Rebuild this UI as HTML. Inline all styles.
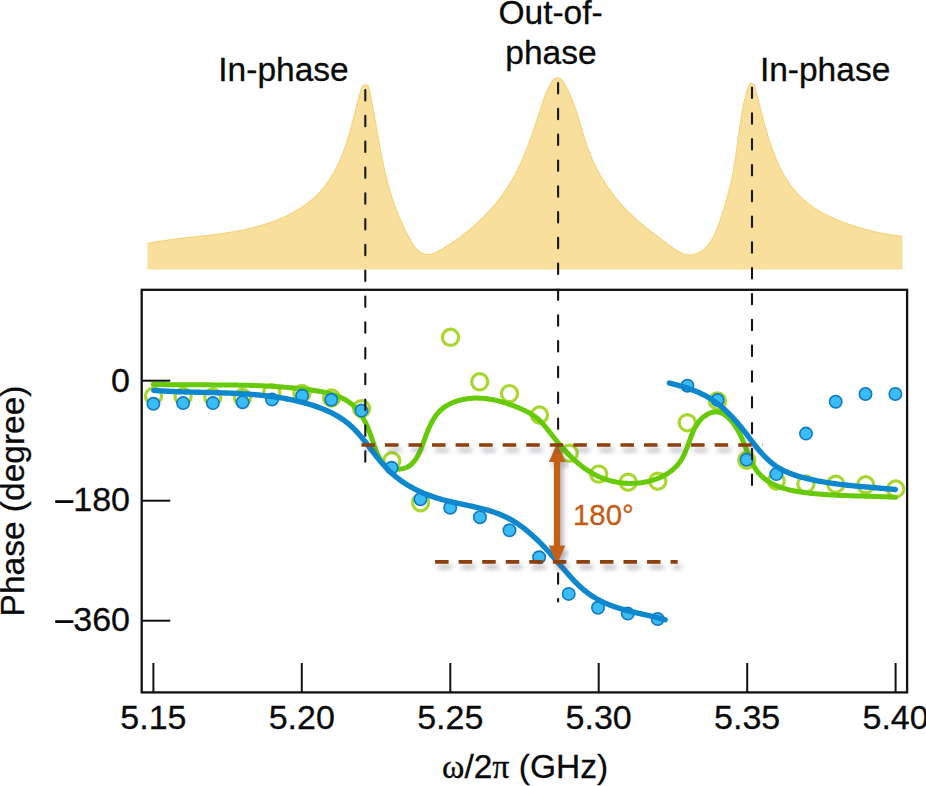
<!DOCTYPE html><html><head><meta charset="utf-8"><style>html,body{margin:0;padding:0;background:#fff;}svg{display:block;}</style></head><body><svg width="926" height="786" viewBox="0 0 926 786"><defs><filter id="sh" x="-20%" y="-50%" width="140%" height="300%"><feDropShadow dx="3" dy="5" stdDeviation="2.4" flood-color="#556" flood-opacity="0.45"/></filter></defs><rect width="926" height="786" fill="#fff"/><path d="M147.41,243.54 L148.89,243.25 L150.37,242.96 L151.85,242.68 L153.33,242.41 L154.82,242.15 L156.31,241.89 L157.79,241.64 L159.28,241.40 L160.77,241.16 L162.26,240.93 L163.76,240.70 L165.25,240.48 L166.74,240.27 L168.24,240.06 L169.73,239.85 L171.23,239.65 L172.73,239.46 L174.22,239.27 L175.72,239.08 L177.22,238.89 L178.72,238.71 L180.22,238.53 L181.73,238.35 L183.23,238.18 L184.73,238.01 L186.23,237.84 L187.74,237.67 L189.24,237.50 L190.74,237.33 L192.25,237.16 L193.75,237.00 L195.26,236.83 L196.76,236.66 L198.27,236.50 L199.77,236.33 L201.28,236.16 L202.78,235.99 L204.29,235.82 L205.80,235.64 L207.30,235.47 L208.81,235.29 L210.31,235.11 L211.82,234.93 L213.32,234.74 L214.83,234.55 L216.33,234.36 L217.84,234.16 L219.34,233.96 L220.84,233.75 L222.35,233.54 L223.85,233.32 L225.35,233.10 L226.85,232.87 L228.35,232.64 L229.85,232.40 L231.35,232.15 L232.85,231.90 L234.35,231.64 L235.85,231.38 L237.34,231.10 L238.84,230.82 L240.33,230.53 L241.83,230.23 L243.32,229.92 L244.81,229.61 L246.30,229.28 L247.79,228.95 L249.28,228.60 L250.77,228.25 L252.25,227.88 L253.74,227.51 L255.22,227.12 L256.71,226.73 L258.18,226.32 L259.66,225.90 L261.14,225.47 L262.61,225.03 L264.07,224.58 L265.54,224.12 L267.00,223.64 L268.45,223.16 L269.90,222.66 L271.35,222.15 L272.79,221.62 L274.22,221.09 L275.65,220.54 L277.07,219.98 L278.49,219.41 L279.90,218.82 L281.30,218.22 L282.69,217.61 L284.08,216.98 L285.46,216.35 L286.82,215.69 L288.18,215.03 L289.54,214.35 L290.88,213.66 L292.21,212.95 L293.53,212.23 L294.84,211.49 L296.15,210.74 L297.44,209.98 L298.71,209.20 L299.98,208.40 L301.24,207.60 L302.48,206.77 L303.71,205.93 L304.93,205.08 L306.13,204.21 L307.32,203.32 L308.50,202.42 L309.66,201.51 L310.81,200.57 L311.94,199.62 L313.06,198.66 L314.17,197.68 L315.25,196.68 L316.33,195.66 L317.38,194.63 L318.42,193.58 L319.44,192.52 L320.45,191.44 L321.43,190.34 L322.40,189.22 L323.35,188.08 L324.29,186.93 L325.20,185.77 L326.10,184.58 L326.98,183.38 L327.84,182.17 L328.69,180.94 L329.52,179.69 L330.34,178.43 L331.14,177.16 L331.92,175.88 L332.69,174.58 L333.44,173.27 L334.18,171.95 L334.90,170.61 L335.61,169.27 L336.31,167.92 L336.99,166.55 L337.66,165.18 L338.31,163.79 L338.95,162.40 L339.58,161.00 L340.20,159.59 L340.80,158.17 L341.39,156.75 L341.97,155.32 L342.53,153.88 L343.09,152.44 L343.63,150.99 L344.17,149.54 L344.69,148.08 L345.20,146.62 L345.70,145.15 L346.20,143.68 L346.68,142.21 L347.15,140.74 L347.61,139.26 L348.07,137.78 L348.51,136.30 L348.95,134.82 L349.38,133.34 L349.80,131.86 L350.22,130.38 L350.63,128.90 L351.03,127.42 L351.43,125.94 L351.82,124.46 L352.21,122.98 L352.60,121.50 L352.98,120.02 L353.36,118.55 L353.73,117.07 L354.11,115.60 L354.48,114.13 L354.85,112.67 L355.23,111.21 L355.60,109.75 L355.97,108.29 L356.34,106.84 L356.72,105.39 L357.09,103.95 L357.47,102.51 L357.85,101.07 L358.24,99.64 L358.63,98.22 L359.02,96.80 L359.42,95.38 L359.82,93.97 L360.23,92.57 L360.65,91.18 L361.07,89.79 L361.50,88.41 L361.93,87.03 L363.30,85.40 L365.40,84.90 L367.60,85.30 L368.48,86.47 L368.82,87.91 L369.15,89.35 L369.47,90.79 L369.79,92.23 L370.10,93.68 L370.41,95.14 L370.72,96.60 L371.02,98.06 L371.32,99.52 L371.62,100.99 L371.91,102.46 L372.20,103.93 L372.48,105.40 L372.77,106.88 L373.05,108.36 L373.32,109.84 L373.60,111.32 L373.87,112.81 L374.14,114.30 L374.41,115.79 L374.68,117.28 L374.95,118.77 L375.21,120.27 L375.48,121.76 L375.74,123.26 L376.00,124.76 L376.27,126.25 L376.53,127.75 L376.79,129.25 L377.05,130.75 L377.31,132.25 L377.58,133.76 L377.84,135.26 L378.10,136.76 L378.37,138.26 L378.63,139.76 L378.90,141.26 L379.17,142.76 L379.44,144.26 L379.71,145.76 L379.99,147.25 L380.26,148.75 L380.54,150.25 L380.82,151.74 L381.11,153.23 L381.39,154.72 L381.68,156.21 L381.97,157.70 L382.27,159.19 L382.57,160.67 L382.87,162.15 L383.18,163.63 L383.49,165.11 L383.81,166.58 L384.13,168.06 L384.46,169.53 L384.79,170.99 L385.12,172.46 L385.46,173.92 L385.81,175.37 L386.16,176.83 L386.51,178.28 L386.88,179.72 L387.25,181.17 L387.62,182.60 L388.00,184.04 L388.39,185.47 L388.79,186.90 L389.19,188.32 L389.60,189.74 L390.01,191.15 L390.44,192.56 L390.87,193.97 L391.31,195.38 L391.76,196.78 L392.21,198.18 L392.68,199.58 L393.15,200.98 L393.63,202.37 L394.12,203.77 L394.62,205.17 L395.13,206.56 L395.65,207.96 L396.18,209.35 L396.72,210.75 L397.27,212.15 L397.83,213.55 L398.40,214.95 L398.98,216.36 L399.58,217.76 L400.18,219.17 L400.79,220.59 L401.42,222.00 L402.06,223.42 L402.71,224.85 L403.37,226.28 L404.04,227.71 L404.73,229.15 L405.43,230.60 L406.14,232.05 L406.86,233.50 L407.60,234.96 L408.35,236.43 L409.12,237.88 L409.91,239.32 L410.71,240.74 L411.53,242.12 L412.38,243.47 L413.24,244.78 L414.13,246.03 L415.05,247.23 L415.99,248.36 L416.95,249.42 L417.95,250.39 L418.98,251.28 L420.03,252.08 L421.12,252.77 L422.24,253.35 L423.40,253.81 L424.59,254.15 L425.83,254.36 L427.09,254.43 L428.40,254.38 L429.73,254.21 L431.09,253.93 L432.47,253.55 L433.87,253.08 L435.28,252.53 L436.70,251.91 L438.13,251.23 L439.56,250.49 L440.99,249.72 L442.41,248.91 L443.82,248.07 L445.22,247.22 L446.59,246.36 L447.95,245.51 L449.29,244.65 L450.61,243.79 L451.92,242.93 L453.20,242.07 L454.47,241.20 L455.73,240.34 L456.97,239.47 L458.19,238.59 L459.40,237.71 L460.60,236.82 L461.79,235.93 L462.97,235.04 L464.14,234.13 L465.30,233.22 L466.45,232.30 L467.59,231.38 L468.73,230.44 L469.86,229.50 L470.99,228.54 L472.11,227.58 L473.23,226.60 L474.34,225.62 L475.45,224.63 L476.55,223.62 L477.65,222.61 L478.75,221.58 L479.84,220.55 L480.92,219.51 L482.00,218.45 L483.07,217.39 L484.14,216.32 L485.20,215.24 L486.25,214.15 L487.29,213.05 L488.33,211.95 L489.36,210.83 L490.38,209.71 L491.39,208.57 L492.40,207.43 L493.39,206.28 L494.38,205.12 L495.36,203.96 L496.32,202.78 L497.28,201.60 L498.23,200.41 L499.17,199.21 L500.09,198.01 L501.01,196.80 L501.91,195.58 L502.80,194.35 L503.69,193.11 L504.56,191.87 L505.41,190.62 L506.26,189.37 L507.09,188.11 L507.91,186.84 L508.71,185.56 L509.51,184.28 L510.29,183.00 L511.06,181.70 L511.82,180.40 L512.57,179.10 L513.30,177.79 L514.03,176.47 L514.74,175.15 L515.45,173.82 L516.14,172.49 L516.82,171.15 L517.50,169.81 L518.16,168.46 L518.82,167.11 L519.46,165.75 L520.10,164.39 L520.73,163.02 L521.35,161.65 L521.96,160.28 L522.56,158.90 L523.16,157.52 L523.75,156.13 L524.33,154.74 L524.90,153.35 L525.47,151.96 L526.03,150.56 L526.59,149.16 L527.14,147.75 L527.68,146.34 L528.21,144.93 L528.75,143.52 L529.27,142.11 L529.79,140.69 L530.31,139.27 L530.82,137.85 L531.33,136.43 L531.83,135.00 L532.33,133.58 L532.83,132.15 L533.32,130.72 L533.81,129.29 L534.29,127.86 L534.78,126.42 L535.26,124.99 L535.74,123.56 L536.21,122.12 L536.69,120.69 L537.16,119.25 L537.63,117.81 L538.11,116.38 L538.58,114.94 L539.05,113.51 L539.51,112.07 L539.98,110.64 L540.45,109.20 L540.92,107.77 L541.39,106.34 L541.86,104.91 L542.33,103.47 L542.80,102.05 L543.28,100.62 L543.75,99.19 L543.78,99.22 L544.03,98.38 L544.29,97.57 L544.56,96.77 L544.84,95.99 L545.13,95.23 L545.43,94.48 L545.74,93.74 L546.05,93.01 L546.37,92.29 L546.70,91.57 L547.04,90.86 L547.39,90.14 L547.74,89.43 L548.09,88.71 L548.46,87.99 L548.83,87.25 L549.20,86.51 L549.58,85.76 L549.96,84.99 L550.35,84.21 L550.75,83.43 L551.16,82.66 L551.60,81.91 L552.06,81.19 L552.55,80.51 L553.08,79.88 L553.64,79.31 L554.26,78.81 L554.92,78.39 L555.62,78.07 L556.36,77.86 L557.11,77.76 L557.86,77.81 L558.60,77.97 L559.34,78.24 L560.05,78.61 L560.74,79.06 L561.40,79.59 L562.02,80.18 L562.60,80.81 L563.12,81.48 L563.61,82.18 L564.05,82.89 L564.47,83.62 L564.88,84.35 L565.28,85.08 L565.67,85.80 L566.06,86.53 L566.45,87.25 L566.82,87.98 L567.20,88.70 L567.57,89.42 L567.93,90.14 L568.29,90.87 L568.64,91.60 L568.98,92.33 L569.31,93.07 L569.64,93.81 L569.96,94.56 L570.27,95.31 L570.58,96.07 L570.87,96.84 L571.16,97.62 L571.44,98.41 L571.70,99.20 L571.76,99.11 L572.34,100.54 L572.91,101.97 L573.46,103.39 L573.99,104.82 L574.51,106.25 L575.03,107.69 L575.52,109.12 L576.01,110.55 L576.49,111.99 L576.96,113.42 L577.43,114.86 L577.88,116.30 L578.33,117.73 L578.78,119.17 L579.21,120.61 L579.65,122.05 L580.08,123.48 L580.51,124.92 L580.94,126.36 L581.36,127.79 L581.79,129.23 L582.21,130.66 L582.64,132.10 L583.07,133.53 L583.51,134.96 L583.95,136.39 L584.39,137.82 L584.84,139.25 L585.29,140.67 L585.75,142.10 L586.22,143.52 L586.70,144.94 L587.18,146.35 L587.68,147.77 L588.19,149.18 L588.71,150.59 L589.24,152.00 L589.79,153.40 L590.35,154.80 L590.93,156.20 L591.51,157.60 L592.12,158.99 L592.73,160.38 L593.36,161.76 L594.00,163.14 L594.66,164.51 L595.33,165.88 L596.01,167.25 L596.70,168.61 L597.41,169.96 L598.12,171.31 L598.85,172.65 L599.60,173.99 L600.35,175.32 L601.12,176.65 L601.89,177.97 L602.68,179.28 L603.48,180.58 L604.30,181.88 L605.12,183.17 L605.95,184.45 L606.80,185.73 L607.65,186.99 L608.51,188.25 L609.39,189.50 L610.28,190.74 L611.17,191.97 L612.08,193.20 L612.99,194.41 L613.92,195.62 L614.85,196.81 L615.79,198.00 L616.74,199.17 L617.71,200.33 L618.68,201.49 L619.65,202.63 L620.64,203.76 L621.64,204.88 L622.64,205.99 L623.65,207.09 L624.67,208.18 L625.70,209.25 L626.73,210.32 L627.78,211.37 L628.83,212.41 L629.89,213.45 L630.95,214.47 L632.02,215.49 L633.11,216.50 L634.19,217.49 L635.29,218.49 L636.39,219.47 L637.50,220.45 L638.62,221.42 L639.74,222.39 L640.88,223.35 L642.02,224.30 L643.16,225.25 L644.31,226.20 L645.47,227.14 L646.64,228.08 L647.81,229.02 L648.99,229.95 L650.18,230.88 L651.37,231.81 L652.57,232.74 L653.78,233.67 L654.99,234.59 L656.21,235.52 L657.43,236.45 L658.66,237.38 L659.90,238.31 L661.15,239.24 L662.40,240.17 L663.65,241.11 L664.91,242.05 L666.18,242.99 L667.46,243.94 L668.74,244.89 L670.02,245.84 L671.31,246.78 L672.61,247.72 L673.91,248.63 L675.22,249.51 L676.54,250.35 L677.87,251.15 L679.20,251.89 L680.54,252.57 L681.88,253.19 L683.24,253.72 L684.60,254.17 L685.97,254.53 L687.35,254.78 L688.74,254.93 L690.13,254.96 L691.54,254.86 L692.94,254.65 L694.34,254.34 L695.71,253.92 L697.07,253.42 L698.38,252.83 L699.66,252.18 L700.89,251.45 L702.07,250.67 L703.21,249.82 L704.30,248.92 L705.35,247.96 L706.36,246.95 L707.34,245.88 L708.27,244.78 L709.17,243.62 L710.03,242.43 L710.86,241.20 L711.66,239.92 L712.43,238.62 L713.17,237.28 L713.88,235.92 L714.57,234.53 L715.23,233.11 L715.87,231.68 L716.49,230.22 L717.08,228.75 L717.66,227.27 L718.23,225.77 L718.77,224.27 L719.31,222.76 L719.83,221.25 L720.34,219.74 L720.84,218.23 L721.33,216.73 L721.81,215.24 L722.29,213.75 L722.76,212.26 L723.23,210.79 L723.68,209.32 L724.13,207.85 L724.58,206.39 L725.01,204.94 L725.45,203.49 L725.87,202.04 L726.29,200.59 L726.70,199.15 L727.10,197.72 L727.49,196.28 L727.88,194.85 L728.27,193.41 L728.64,191.98 L729.01,190.55 L729.37,189.12 L729.73,187.69 L730.07,186.26 L730.41,184.83 L730.75,183.40 L731.07,181.96 L731.39,180.53 L731.71,179.09 L732.01,177.65 L732.31,176.20 L732.60,174.75 L732.89,173.30 L733.16,171.84 L733.43,170.38 L733.70,168.91 L733.96,167.44 L734.21,165.97 L734.45,164.49 L734.69,163.01 L734.93,161.52 L735.16,160.03 L735.38,158.54 L735.61,157.04 L735.83,155.54 L736.04,154.04 L736.25,152.53 L736.46,151.03 L736.67,149.52 L736.88,148.01 L737.08,146.50 L737.28,144.98 L737.49,143.47 L737.69,141.95 L737.89,140.44 L738.09,138.92 L738.30,137.41 L738.50,135.89 L738.71,134.37 L738.91,132.86 L739.12,131.34 L739.33,129.83 L739.55,128.31 L739.77,126.80 L739.99,125.29 L740.21,123.78 L740.44,122.27 L740.67,120.77 L740.91,119.27 L741.16,117.76 L741.41,116.27 L741.66,114.77 L741.92,113.28 L742.19,111.79 L742.47,110.31 L742.75,108.82 L743.04,107.35 L743.34,105.87 L743.64,104.41 L743.96,102.94 L744.28,101.48 L744.62,100.03 L744.96,98.58 L745.31,97.13 L745.68,95.70 L746.05,94.26 L746.44,92.84 L746.84,91.42 L747.25,90.01 L748.80,86.20 L750.20,83.20 L751.60,83.40 L753.99,84.47 L754.38,85.83 L754.77,87.20 L755.15,88.58 L755.54,89.96 L755.92,91.36 L756.29,92.76 L756.67,94.17 L757.04,95.58 L757.42,97.00 L757.79,98.43 L758.16,99.87 L758.54,101.31 L758.91,102.75 L759.28,104.20 L759.66,105.66 L760.03,107.11 L760.41,108.58 L760.79,110.04 L761.16,111.52 L761.55,112.99 L761.93,114.46 L762.32,115.94 L762.71,117.42 L763.10,118.91 L763.49,120.39 L763.89,121.88 L764.30,123.36 L764.70,124.85 L765.12,126.34 L765.53,127.82 L765.95,129.31 L766.38,130.80 L766.82,132.28 L767.25,133.76 L767.70,135.24 L768.15,136.72 L768.61,138.20 L769.07,139.68 L769.55,141.15 L770.03,142.62 L770.51,144.08 L771.01,145.54 L771.51,147.00 L772.03,148.45 L772.55,149.90 L773.08,151.34 L773.62,152.77 L774.17,154.21 L774.73,155.63 L775.30,157.05 L775.88,158.46 L776.47,159.86 L777.08,161.26 L777.69,162.65 L778.32,164.03 L778.95,165.40 L779.60,166.76 L780.27,168.12 L780.94,169.46 L781.63,170.80 L782.33,172.12 L783.05,173.44 L783.77,174.74 L784.52,176.04 L785.27,177.32 L786.05,178.59 L786.83,179.85 L787.64,181.09 L788.45,182.33 L789.29,183.55 L790.14,184.76 L791.00,185.95 L791.88,187.13 L792.78,188.30 L793.70,189.45 L794.63,190.58 L795.59,191.71 L796.55,192.81 L797.54,193.90 L798.55,194.98 L799.57,196.04 L800.62,197.08 L801.68,198.10 L802.76,199.11 L803.87,200.10 L804.99,201.07 L806.13,202.02 L807.29,202.96 L808.47,203.88 L809.67,204.78 L810.89,205.66 L812.12,206.53 L813.37,207.38 L814.63,208.22 L815.91,209.04 L817.21,209.84 L818.51,210.63 L819.84,211.40 L821.17,212.16 L822.52,212.90 L823.87,213.63 L825.24,214.34 L826.62,215.04 L828.01,215.73 L829.41,216.40 L830.82,217.06 L832.23,217.71 L833.65,218.34 L835.08,218.96 L836.52,219.57 L837.96,220.16 L839.41,220.75 L840.86,221.32 L842.32,221.88 L843.78,222.43 L845.24,222.96 L846.70,223.49 L848.17,224.01 L849.64,224.52 L851.10,225.01 L852.57,225.50 L854.04,225.97 L855.50,226.44 L856.97,226.90 L858.43,227.35 L859.89,227.79 L861.35,228.22 L862.80,228.65 L864.26,229.06 L865.71,229.46 L867.16,229.86 L868.61,230.25 L870.06,230.62 L871.51,230.99 L872.95,231.35 L874.40,231.69 L875.85,232.03 L877.31,232.36 L878.76,232.68 L880.21,232.99 L881.67,233.28 L883.13,233.57 L884.59,233.85 L886.05,234.11 L887.52,234.37 L888.99,234.61 L890.47,234.85 L891.95,235.07 L893.43,235.28 L894.92,235.48 L896.42,235.67 L897.92,235.85 L899.42,236.02 L900.94,236.17 L902.46,236.31 L902.6,269.6 L147.3,269.6 Z" fill="#F8E09C"/><path d="M147.41,243.54 L148.89,243.25 L150.37,242.96 L151.85,242.68 L153.33,242.41 L154.82,242.15 L156.31,241.89 L157.79,241.64 L159.28,241.40 L160.77,241.16 L162.26,240.93 L163.76,240.70 L165.25,240.48 L166.74,240.27 L168.24,240.06 L169.73,239.85 L171.23,239.65 L172.73,239.46 L174.22,239.27 L175.72,239.08 L177.22,238.89 L178.72,238.71 L180.22,238.53 L181.73,238.35 L183.23,238.18 L184.73,238.01 L186.23,237.84 L187.74,237.67 L189.24,237.50 L190.74,237.33 L192.25,237.16 L193.75,237.00 L195.26,236.83 L196.76,236.66 L198.27,236.50 L199.77,236.33 L201.28,236.16 L202.78,235.99 L204.29,235.82 L205.80,235.64 L207.30,235.47 L208.81,235.29 L210.31,235.11 L211.82,234.93 L213.32,234.74 L214.83,234.55 L216.33,234.36 L217.84,234.16 L219.34,233.96 L220.84,233.75 L222.35,233.54 L223.85,233.32 L225.35,233.10 L226.85,232.87 L228.35,232.64 L229.85,232.40 L231.35,232.15 L232.85,231.90 L234.35,231.64 L235.85,231.38 L237.34,231.10 L238.84,230.82 L240.33,230.53 L241.83,230.23 L243.32,229.92 L244.81,229.61 L246.30,229.28 L247.79,228.95 L249.28,228.60 L250.77,228.25 L252.25,227.88 L253.74,227.51 L255.22,227.12 L256.71,226.73 L258.18,226.32 L259.66,225.90 L261.14,225.47 L262.61,225.03 L264.07,224.58 L265.54,224.12 L267.00,223.64 L268.45,223.16 L269.90,222.66 L271.35,222.15 L272.79,221.62 L274.22,221.09 L275.65,220.54 L277.07,219.98 L278.49,219.41 L279.90,218.82 L281.30,218.22 L282.69,217.61 L284.08,216.98 L285.46,216.35 L286.82,215.69 L288.18,215.03 L289.54,214.35 L290.88,213.66 L292.21,212.95 L293.53,212.23 L294.84,211.49 L296.15,210.74 L297.44,209.98 L298.71,209.20 L299.98,208.40 L301.24,207.60 L302.48,206.77 L303.71,205.93 L304.93,205.08 L306.13,204.21 L307.32,203.32 L308.50,202.42 L309.66,201.51 L310.81,200.57 L311.94,199.62 L313.06,198.66 L314.17,197.68 L315.25,196.68 L316.33,195.66 L317.38,194.63 L318.42,193.58 L319.44,192.52 L320.45,191.44 L321.43,190.34 L322.40,189.22 L323.35,188.08 L324.29,186.93 L325.20,185.77 L326.10,184.58 L326.98,183.38 L327.84,182.17 L328.69,180.94 L329.52,179.69 L330.34,178.43 L331.14,177.16 L331.92,175.88 L332.69,174.58 L333.44,173.27 L334.18,171.95 L334.90,170.61 L335.61,169.27 L336.31,167.92 L336.99,166.55 L337.66,165.18 L338.31,163.79 L338.95,162.40 L339.58,161.00 L340.20,159.59 L340.80,158.17 L341.39,156.75 L341.97,155.32 L342.53,153.88 L343.09,152.44 L343.63,150.99 L344.17,149.54 L344.69,148.08 L345.20,146.62 L345.70,145.15 L346.20,143.68 L346.68,142.21 L347.15,140.74 L347.61,139.26 L348.07,137.78 L348.51,136.30 L348.95,134.82 L349.38,133.34 L349.80,131.86 L350.22,130.38 L350.63,128.90 L351.03,127.42 L351.43,125.94 L351.82,124.46 L352.21,122.98 L352.60,121.50 L352.98,120.02 L353.36,118.55 L353.73,117.07 L354.11,115.60 L354.48,114.13 L354.85,112.67 L355.23,111.21 L355.60,109.75 L355.97,108.29 L356.34,106.84 L356.72,105.39 L357.09,103.95 L357.47,102.51 L357.85,101.07 L358.24,99.64 L358.63,98.22 L359.02,96.80 L359.42,95.38 L359.82,93.97 L360.23,92.57 L360.65,91.18 L361.07,89.79 L361.50,88.41 L361.93,87.03 L363.30,85.40 L365.40,84.90 L367.60,85.30 L368.48,86.47 L368.82,87.91 L369.15,89.35 L369.47,90.79 L369.79,92.23 L370.10,93.68 L370.41,95.14 L370.72,96.60 L371.02,98.06 L371.32,99.52 L371.62,100.99 L371.91,102.46 L372.20,103.93 L372.48,105.40 L372.77,106.88 L373.05,108.36 L373.32,109.84 L373.60,111.32 L373.87,112.81 L374.14,114.30 L374.41,115.79 L374.68,117.28 L374.95,118.77 L375.21,120.27 L375.48,121.76 L375.74,123.26 L376.00,124.76 L376.27,126.25 L376.53,127.75 L376.79,129.25 L377.05,130.75 L377.31,132.25 L377.58,133.76 L377.84,135.26 L378.10,136.76 L378.37,138.26 L378.63,139.76 L378.90,141.26 L379.17,142.76 L379.44,144.26 L379.71,145.76 L379.99,147.25 L380.26,148.75 L380.54,150.25 L380.82,151.74 L381.11,153.23 L381.39,154.72 L381.68,156.21 L381.97,157.70 L382.27,159.19 L382.57,160.67 L382.87,162.15 L383.18,163.63 L383.49,165.11 L383.81,166.58 L384.13,168.06 L384.46,169.53 L384.79,170.99 L385.12,172.46 L385.46,173.92 L385.81,175.37 L386.16,176.83 L386.51,178.28 L386.88,179.72 L387.25,181.17 L387.62,182.60 L388.00,184.04 L388.39,185.47 L388.79,186.90 L389.19,188.32 L389.60,189.74 L390.01,191.15 L390.44,192.56 L390.87,193.97 L391.31,195.38 L391.76,196.78 L392.21,198.18 L392.68,199.58 L393.15,200.98 L393.63,202.37 L394.12,203.77 L394.62,205.17 L395.13,206.56 L395.65,207.96 L396.18,209.35 L396.72,210.75 L397.27,212.15 L397.83,213.55 L398.40,214.95 L398.98,216.36 L399.58,217.76 L400.18,219.17 L400.79,220.59 L401.42,222.00 L402.06,223.42 L402.71,224.85 L403.37,226.28 L404.04,227.71 L404.73,229.15 L405.43,230.60 L406.14,232.05 L406.86,233.50 L407.60,234.96 L408.35,236.43 L409.12,237.88 L409.91,239.32 L410.71,240.74 L411.53,242.12 L412.38,243.47 L413.24,244.78 L414.13,246.03 L415.05,247.23 L415.99,248.36 L416.95,249.42 L417.95,250.39 L418.98,251.28 L420.03,252.08 L421.12,252.77 L422.24,253.35 L423.40,253.81 L424.59,254.15 L425.83,254.36 L427.09,254.43 L428.40,254.38 L429.73,254.21 L431.09,253.93 L432.47,253.55 L433.87,253.08 L435.28,252.53 L436.70,251.91 L438.13,251.23 L439.56,250.49 L440.99,249.72 L442.41,248.91 L443.82,248.07 L445.22,247.22 L446.59,246.36 L447.95,245.51 L449.29,244.65 L450.61,243.79 L451.92,242.93 L453.20,242.07 L454.47,241.20 L455.73,240.34 L456.97,239.47 L458.19,238.59 L459.40,237.71 L460.60,236.82 L461.79,235.93 L462.97,235.04 L464.14,234.13 L465.30,233.22 L466.45,232.30 L467.59,231.38 L468.73,230.44 L469.86,229.50 L470.99,228.54 L472.11,227.58 L473.23,226.60 L474.34,225.62 L475.45,224.63 L476.55,223.62 L477.65,222.61 L478.75,221.58 L479.84,220.55 L480.92,219.51 L482.00,218.45 L483.07,217.39 L484.14,216.32 L485.20,215.24 L486.25,214.15 L487.29,213.05 L488.33,211.95 L489.36,210.83 L490.38,209.71 L491.39,208.57 L492.40,207.43 L493.39,206.28 L494.38,205.12 L495.36,203.96 L496.32,202.78 L497.28,201.60 L498.23,200.41 L499.17,199.21 L500.09,198.01 L501.01,196.80 L501.91,195.58 L502.80,194.35 L503.69,193.11 L504.56,191.87 L505.41,190.62 L506.26,189.37 L507.09,188.11 L507.91,186.84 L508.71,185.56 L509.51,184.28 L510.29,183.00 L511.06,181.70 L511.82,180.40 L512.57,179.10 L513.30,177.79 L514.03,176.47 L514.74,175.15 L515.45,173.82 L516.14,172.49 L516.82,171.15 L517.50,169.81 L518.16,168.46 L518.82,167.11 L519.46,165.75 L520.10,164.39 L520.73,163.02 L521.35,161.65 L521.96,160.28 L522.56,158.90 L523.16,157.52 L523.75,156.13 L524.33,154.74 L524.90,153.35 L525.47,151.96 L526.03,150.56 L526.59,149.16 L527.14,147.75 L527.68,146.34 L528.21,144.93 L528.75,143.52 L529.27,142.11 L529.79,140.69 L530.31,139.27 L530.82,137.85 L531.33,136.43 L531.83,135.00 L532.33,133.58 L532.83,132.15 L533.32,130.72 L533.81,129.29 L534.29,127.86 L534.78,126.42 L535.26,124.99 L535.74,123.56 L536.21,122.12 L536.69,120.69 L537.16,119.25 L537.63,117.81 L538.11,116.38 L538.58,114.94 L539.05,113.51 L539.51,112.07 L539.98,110.64 L540.45,109.20 L540.92,107.77 L541.39,106.34 L541.86,104.91 L542.33,103.47 L542.80,102.05 L543.28,100.62 L543.75,99.19 L543.78,99.22 L544.03,98.38 L544.29,97.57 L544.56,96.77 L544.84,95.99 L545.13,95.23 L545.43,94.48 L545.74,93.74 L546.05,93.01 L546.37,92.29 L546.70,91.57 L547.04,90.86 L547.39,90.14 L547.74,89.43 L548.09,88.71 L548.46,87.99 L548.83,87.25 L549.20,86.51 L549.58,85.76 L549.96,84.99 L550.35,84.21 L550.75,83.43 L551.16,82.66 L551.60,81.91 L552.06,81.19 L552.55,80.51 L553.08,79.88 L553.64,79.31 L554.26,78.81 L554.92,78.39 L555.62,78.07 L556.36,77.86 L557.11,77.76 L557.86,77.81 L558.60,77.97 L559.34,78.24 L560.05,78.61 L560.74,79.06 L561.40,79.59 L562.02,80.18 L562.60,80.81 L563.12,81.48 L563.61,82.18 L564.05,82.89 L564.47,83.62 L564.88,84.35 L565.28,85.08 L565.67,85.80 L566.06,86.53 L566.45,87.25 L566.82,87.98 L567.20,88.70 L567.57,89.42 L567.93,90.14 L568.29,90.87 L568.64,91.60 L568.98,92.33 L569.31,93.07 L569.64,93.81 L569.96,94.56 L570.27,95.31 L570.58,96.07 L570.87,96.84 L571.16,97.62 L571.44,98.41 L571.70,99.20 L571.76,99.11 L572.34,100.54 L572.91,101.97 L573.46,103.39 L573.99,104.82 L574.51,106.25 L575.03,107.69 L575.52,109.12 L576.01,110.55 L576.49,111.99 L576.96,113.42 L577.43,114.86 L577.88,116.30 L578.33,117.73 L578.78,119.17 L579.21,120.61 L579.65,122.05 L580.08,123.48 L580.51,124.92 L580.94,126.36 L581.36,127.79 L581.79,129.23 L582.21,130.66 L582.64,132.10 L583.07,133.53 L583.51,134.96 L583.95,136.39 L584.39,137.82 L584.84,139.25 L585.29,140.67 L585.75,142.10 L586.22,143.52 L586.70,144.94 L587.18,146.35 L587.68,147.77 L588.19,149.18 L588.71,150.59 L589.24,152.00 L589.79,153.40 L590.35,154.80 L590.93,156.20 L591.51,157.60 L592.12,158.99 L592.73,160.38 L593.36,161.76 L594.00,163.14 L594.66,164.51 L595.33,165.88 L596.01,167.25 L596.70,168.61 L597.41,169.96 L598.12,171.31 L598.85,172.65 L599.60,173.99 L600.35,175.32 L601.12,176.65 L601.89,177.97 L602.68,179.28 L603.48,180.58 L604.30,181.88 L605.12,183.17 L605.95,184.45 L606.80,185.73 L607.65,186.99 L608.51,188.25 L609.39,189.50 L610.28,190.74 L611.17,191.97 L612.08,193.20 L612.99,194.41 L613.92,195.62 L614.85,196.81 L615.79,198.00 L616.74,199.17 L617.71,200.33 L618.68,201.49 L619.65,202.63 L620.64,203.76 L621.64,204.88 L622.64,205.99 L623.65,207.09 L624.67,208.18 L625.70,209.25 L626.73,210.32 L627.78,211.37 L628.83,212.41 L629.89,213.45 L630.95,214.47 L632.02,215.49 L633.11,216.50 L634.19,217.49 L635.29,218.49 L636.39,219.47 L637.50,220.45 L638.62,221.42 L639.74,222.39 L640.88,223.35 L642.02,224.30 L643.16,225.25 L644.31,226.20 L645.47,227.14 L646.64,228.08 L647.81,229.02 L648.99,229.95 L650.18,230.88 L651.37,231.81 L652.57,232.74 L653.78,233.67 L654.99,234.59 L656.21,235.52 L657.43,236.45 L658.66,237.38 L659.90,238.31 L661.15,239.24 L662.40,240.17 L663.65,241.11 L664.91,242.05 L666.18,242.99 L667.46,243.94 L668.74,244.89 L670.02,245.84 L671.31,246.78 L672.61,247.72 L673.91,248.63 L675.22,249.51 L676.54,250.35 L677.87,251.15 L679.20,251.89 L680.54,252.57 L681.88,253.19 L683.24,253.72 L684.60,254.17 L685.97,254.53 L687.35,254.78 L688.74,254.93 L690.13,254.96 L691.54,254.86 L692.94,254.65 L694.34,254.34 L695.71,253.92 L697.07,253.42 L698.38,252.83 L699.66,252.18 L700.89,251.45 L702.07,250.67 L703.21,249.82 L704.30,248.92 L705.35,247.96 L706.36,246.95 L707.34,245.88 L708.27,244.78 L709.17,243.62 L710.03,242.43 L710.86,241.20 L711.66,239.92 L712.43,238.62 L713.17,237.28 L713.88,235.92 L714.57,234.53 L715.23,233.11 L715.87,231.68 L716.49,230.22 L717.08,228.75 L717.66,227.27 L718.23,225.77 L718.77,224.27 L719.31,222.76 L719.83,221.25 L720.34,219.74 L720.84,218.23 L721.33,216.73 L721.81,215.24 L722.29,213.75 L722.76,212.26 L723.23,210.79 L723.68,209.32 L724.13,207.85 L724.58,206.39 L725.01,204.94 L725.45,203.49 L725.87,202.04 L726.29,200.59 L726.70,199.15 L727.10,197.72 L727.49,196.28 L727.88,194.85 L728.27,193.41 L728.64,191.98 L729.01,190.55 L729.37,189.12 L729.73,187.69 L730.07,186.26 L730.41,184.83 L730.75,183.40 L731.07,181.96 L731.39,180.53 L731.71,179.09 L732.01,177.65 L732.31,176.20 L732.60,174.75 L732.89,173.30 L733.16,171.84 L733.43,170.38 L733.70,168.91 L733.96,167.44 L734.21,165.97 L734.45,164.49 L734.69,163.01 L734.93,161.52 L735.16,160.03 L735.38,158.54 L735.61,157.04 L735.83,155.54 L736.04,154.04 L736.25,152.53 L736.46,151.03 L736.67,149.52 L736.88,148.01 L737.08,146.50 L737.28,144.98 L737.49,143.47 L737.69,141.95 L737.89,140.44 L738.09,138.92 L738.30,137.41 L738.50,135.89 L738.71,134.37 L738.91,132.86 L739.12,131.34 L739.33,129.83 L739.55,128.31 L739.77,126.80 L739.99,125.29 L740.21,123.78 L740.44,122.27 L740.67,120.77 L740.91,119.27 L741.16,117.76 L741.41,116.27 L741.66,114.77 L741.92,113.28 L742.19,111.79 L742.47,110.31 L742.75,108.82 L743.04,107.35 L743.34,105.87 L743.64,104.41 L743.96,102.94 L744.28,101.48 L744.62,100.03 L744.96,98.58 L745.31,97.13 L745.68,95.70 L746.05,94.26 L746.44,92.84 L746.84,91.42 L747.25,90.01 L748.80,86.20 L750.20,83.20 L751.60,83.40 L753.99,84.47 L754.38,85.83 L754.77,87.20 L755.15,88.58 L755.54,89.96 L755.92,91.36 L756.29,92.76 L756.67,94.17 L757.04,95.58 L757.42,97.00 L757.79,98.43 L758.16,99.87 L758.54,101.31 L758.91,102.75 L759.28,104.20 L759.66,105.66 L760.03,107.11 L760.41,108.58 L760.79,110.04 L761.16,111.52 L761.55,112.99 L761.93,114.46 L762.32,115.94 L762.71,117.42 L763.10,118.91 L763.49,120.39 L763.89,121.88 L764.30,123.36 L764.70,124.85 L765.12,126.34 L765.53,127.82 L765.95,129.31 L766.38,130.80 L766.82,132.28 L767.25,133.76 L767.70,135.24 L768.15,136.72 L768.61,138.20 L769.07,139.68 L769.55,141.15 L770.03,142.62 L770.51,144.08 L771.01,145.54 L771.51,147.00 L772.03,148.45 L772.55,149.90 L773.08,151.34 L773.62,152.77 L774.17,154.21 L774.73,155.63 L775.30,157.05 L775.88,158.46 L776.47,159.86 L777.08,161.26 L777.69,162.65 L778.32,164.03 L778.95,165.40 L779.60,166.76 L780.27,168.12 L780.94,169.46 L781.63,170.80 L782.33,172.12 L783.05,173.44 L783.77,174.74 L784.52,176.04 L785.27,177.32 L786.05,178.59 L786.83,179.85 L787.64,181.09 L788.45,182.33 L789.29,183.55 L790.14,184.76 L791.00,185.95 L791.88,187.13 L792.78,188.30 L793.70,189.45 L794.63,190.58 L795.59,191.71 L796.55,192.81 L797.54,193.90 L798.55,194.98 L799.57,196.04 L800.62,197.08 L801.68,198.10 L802.76,199.11 L803.87,200.10 L804.99,201.07 L806.13,202.02 L807.29,202.96 L808.47,203.88 L809.67,204.78 L810.89,205.66 L812.12,206.53 L813.37,207.38 L814.63,208.22 L815.91,209.04 L817.21,209.84 L818.51,210.63 L819.84,211.40 L821.17,212.16 L822.52,212.90 L823.87,213.63 L825.24,214.34 L826.62,215.04 L828.01,215.73 L829.41,216.40 L830.82,217.06 L832.23,217.71 L833.65,218.34 L835.08,218.96 L836.52,219.57 L837.96,220.16 L839.41,220.75 L840.86,221.32 L842.32,221.88 L843.78,222.43 L845.24,222.96 L846.70,223.49 L848.17,224.01 L849.64,224.52 L851.10,225.01 L852.57,225.50 L854.04,225.97 L855.50,226.44 L856.97,226.90 L858.43,227.35 L859.89,227.79 L861.35,228.22 L862.80,228.65 L864.26,229.06 L865.71,229.46 L867.16,229.86 L868.61,230.25 L870.06,230.62 L871.51,230.99 L872.95,231.35 L874.40,231.69 L875.85,232.03 L877.31,232.36 L878.76,232.68 L880.21,232.99 L881.67,233.28 L883.13,233.57 L884.59,233.85 L886.05,234.11 L887.52,234.37 L888.99,234.61 L890.47,234.85 L891.95,235.07 L893.43,235.28 L894.92,235.48 L896.42,235.67 L897.92,235.85 L899.42,236.02 L900.94,236.17 L902.46,236.31" fill="none" stroke="#F4D27C" stroke-width="1.1"/><rect x="141.7" y="289.8" width="765.4" height="402.6" fill="none" stroke="#111" stroke-width="2.3"/><line x1="142" y1="380.7" x2="170.3" y2="380.7" stroke="#111" stroke-width="2"/><line x1="142" y1="500.7" x2="170.3" y2="500.7" stroke="#111" stroke-width="2"/><line x1="142" y1="620.7" x2="170.3" y2="620.7" stroke="#111" stroke-width="2"/><line x1="153.4" y1="663" x2="153.4" y2="692" stroke="#111" stroke-width="2"/><line x1="301.8" y1="663" x2="301.8" y2="692" stroke="#111" stroke-width="2"/><line x1="450.3" y1="663" x2="450.3" y2="692" stroke="#111" stroke-width="2"/><line x1="598.7" y1="663" x2="598.7" y2="692" stroke="#111" stroke-width="2"/><line x1="747.2" y1="663" x2="747.2" y2="692" stroke="#111" stroke-width="2"/><line x1="895.6" y1="663" x2="895.6" y2="692" stroke="#111" stroke-width="2"/><circle cx="153.5" cy="396" r="8.1" fill="none" stroke="#A9D62F" stroke-width="3.2"/><circle cx="183.1" cy="396.5" r="8.1" fill="none" stroke="#A9D62F" stroke-width="3.2"/><circle cx="212.8" cy="397" r="8.1" fill="none" stroke="#A9D62F" stroke-width="3.2"/><circle cx="242.5" cy="397.5" r="8.1" fill="none" stroke="#A9D62F" stroke-width="3.2"/><circle cx="271.8" cy="392.6" r="8.1" fill="none" stroke="#A9D62F" stroke-width="3.2"/><circle cx="301.9" cy="393.4" r="8.1" fill="none" stroke="#A9D62F" stroke-width="3.2"/><circle cx="331.5" cy="398" r="8.1" fill="none" stroke="#A9D62F" stroke-width="3.2"/><circle cx="361.6" cy="408.7" r="8.1" fill="none" stroke="#A9D62F" stroke-width="3.2"/><circle cx="391.8" cy="460.8" r="8.1" fill="none" stroke="#A9D62F" stroke-width="3.2"/><circle cx="420.6" cy="502.7" r="8.1" fill="none" stroke="#A9D62F" stroke-width="3.2"/><circle cx="450.5" cy="337.3" r="8.1" fill="none" stroke="#A9D62F" stroke-width="3.2"/><circle cx="479.7" cy="381.8" r="8.1" fill="none" stroke="#A9D62F" stroke-width="3.2"/><circle cx="509.5" cy="393.6" r="8.1" fill="none" stroke="#A9D62F" stroke-width="3.2"/><circle cx="539.5" cy="415" r="8.1" fill="none" stroke="#A9D62F" stroke-width="3.2"/><circle cx="569.2" cy="453.3" r="8.1" fill="none" stroke="#A9D62F" stroke-width="3.2"/><circle cx="598.7" cy="474.1" r="8.1" fill="none" stroke="#A9D62F" stroke-width="3.2"/><circle cx="628.2" cy="482.2" r="8.1" fill="none" stroke="#A9D62F" stroke-width="3.2"/><circle cx="657.8" cy="481.2" r="8.1" fill="none" stroke="#A9D62F" stroke-width="3.2"/><circle cx="687.3" cy="422.7" r="8.1" fill="none" stroke="#A9D62F" stroke-width="3.2"/><circle cx="717.4" cy="400.9" r="8.1" fill="none" stroke="#A9D62F" stroke-width="3.2"/><circle cx="746.8" cy="460.2" r="8.1" fill="none" stroke="#A9D62F" stroke-width="3.2"/><circle cx="776.2" cy="481" r="8.1" fill="none" stroke="#A9D62F" stroke-width="3.2"/><circle cx="805.9" cy="484" r="8.1" fill="none" stroke="#A9D62F" stroke-width="3.2"/><circle cx="835.8" cy="484.2" r="8.1" fill="none" stroke="#A9D62F" stroke-width="3.2"/><circle cx="865.7" cy="484.8" r="8.1" fill="none" stroke="#A9D62F" stroke-width="3.2"/><circle cx="895.7" cy="489" r="8.1" fill="none" stroke="#A9D62F" stroke-width="3.2"/><path d="M153.30,384.35 L154.85,384.39 L156.40,384.43 L157.94,384.47 L159.48,384.50 L161.02,384.53 L162.56,384.56 L164.09,384.59 L165.63,384.61 L167.16,384.64 L168.68,384.66 L170.21,384.68 L171.73,384.70 L173.26,384.71 L174.77,384.73 L176.29,384.74 L177.81,384.76 L179.32,384.77 L180.84,384.78 L182.35,384.79 L183.86,384.80 L185.37,384.80 L186.87,384.81 L188.38,384.82 L189.88,384.82 L191.38,384.83 L192.88,384.83 L194.38,384.84 L195.88,384.84 L197.38,384.84 L198.87,384.85 L200.37,384.85 L201.86,384.85 L203.36,384.85 L204.85,384.86 L206.34,384.86 L207.83,384.86 L209.32,384.87 L210.81,384.87 L212.29,384.88 L213.78,384.88 L215.27,384.89 L216.75,384.89 L218.24,384.90 L219.72,384.91 L221.21,384.92 L222.69,384.93 L224.18,384.94 L225.66,384.95 L227.14,384.96 L228.63,384.98 L230.11,385.00 L231.59,385.01 L233.08,385.03 L234.56,385.05 L236.04,385.08 L237.53,385.10 L239.01,385.13 L240.49,385.15 L241.98,385.18 L243.46,385.21 L244.95,385.25 L246.43,385.29 L247.92,385.32 L249.40,385.36 L250.89,385.41 L252.37,385.45 L253.86,385.50 L255.35,385.55 L256.84,385.61 L258.33,385.66 L259.82,385.72 L261.31,385.79 L262.80,385.85 L264.30,385.92 L265.79,385.99 L267.29,386.07 L268.78,386.15 L270.28,386.23 L271.78,386.31 L273.28,386.40 L274.78,386.50 L276.29,386.59 L277.79,386.69 L279.30,386.80 L280.80,386.91 L282.31,387.02 L283.82,387.13 L285.34,387.25 L286.85,387.38 L288.36,387.51 L289.88,387.64 L291.40,387.78 L292.92,387.92 L294.45,388.07 L295.97,388.22 L297.50,388.38 L299.03,388.54 L300.56,388.71 L302.09,388.88 L303.63,389.05 L305.17,389.24 L306.71,389.42 L308.25,389.62 L309.79,389.82 L311.33,390.02 L312.87,390.24 L314.41,390.47 L315.95,390.70 L317.48,390.95 L319.01,391.22 L320.53,391.49 L322.04,391.78 L323.55,392.09 L325.04,392.42 L326.53,392.76 L328.00,393.12 L329.47,393.50 L330.92,393.90 L332.35,394.33 L333.77,394.77 L335.18,395.25 L336.57,395.74 L337.93,396.26 L339.29,396.81 L340.62,397.39 L341.93,398.00 L343.21,398.64 L344.48,399.30 L345.72,400.00 L346.94,400.74 L348.13,401.50 L349.29,402.31 L350.42,403.14 L351.53,404.02 L352.61,404.93 L353.66,405.89 L354.67,406.88 L355.66,407.90 L356.62,408.96 L357.56,410.05 L358.46,411.18 L359.34,412.34 L360.20,413.52 L361.03,414.74 L361.84,415.99 L362.62,417.26 L363.38,418.56 L364.12,419.89 L364.83,421.23 L365.53,422.61 L366.20,424.00 L366.86,425.41 L367.49,426.85 L368.11,428.30 L368.71,429.77 L369.29,431.26 L369.86,432.76 L370.40,434.28 L370.94,435.81 L371.46,437.35 L371.97,438.90 L372.48,440.45 L372.98,442.00 L373.49,443.54 L374.00,445.08 L374.51,446.60 L375.04,448.10 L375.58,449.58 L376.14,451.04 L376.72,452.47 L377.32,453.87 L377.95,455.23 L378.61,456.55 L379.30,457.82 L380.03,459.05 L380.80,460.22 L381.61,461.34 L382.47,462.40 L383.39,463.40 L384.35,464.33 L385.37,465.19 L386.45,465.97 L387.60,466.67 L388.81,467.29 L390.09,467.82 L391.43,468.27 L392.81,468.63 L394.24,468.90 L395.68,469.08 L397.15,469.17 L398.63,469.16 L400.10,469.07 L401.55,468.88 L402.98,468.60 L404.38,468.23 L405.74,467.76 L407.03,467.20 L408.27,466.54 L409.45,465.79 L410.57,464.95 L411.63,464.04 L412.64,463.04 L413.60,461.98 L414.52,460.84 L415.39,459.65 L416.22,458.40 L417.01,457.10 L417.77,455.75 L418.50,454.36 L419.19,452.93 L419.86,451.47 L420.51,449.98 L421.14,448.46 L421.74,446.93 L422.33,445.39 L422.91,443.84 L423.49,442.28 L424.05,440.73 L424.61,439.18 L425.17,437.64 L425.73,436.12 L426.30,434.62 L426.87,433.13 L427.44,431.66 L428.03,430.21 L428.63,428.78 L429.24,427.38 L429.87,425.99 L430.52,424.63 L431.18,423.30 L431.86,421.99 L432.57,420.71 L433.30,419.45 L434.06,418.23 L434.85,417.03 L435.67,415.86 L436.52,414.73 L437.40,413.63 L438.32,412.56 L439.28,411.53 L440.28,410.53 L441.32,409.58 L442.40,408.65 L443.53,407.77 L444.70,406.93 L445.92,406.13 L447.18,405.36 L448.48,404.64 L449.81,403.95 L451.17,403.31 L452.55,402.70 L453.96,402.13 L455.40,401.61 L456.85,401.11 L458.31,400.66 L459.79,400.25 L461.27,399.87 L462.77,399.53 L464.26,399.23 L465.75,398.97 L467.25,398.74 L468.75,398.55 L470.25,398.39 L471.75,398.27 L473.25,398.18 L474.75,398.12 L476.25,398.10 L477.76,398.10 L479.26,398.14 L480.76,398.20 L482.26,398.30 L483.76,398.42 L485.26,398.57 L486.75,398.75 L488.25,398.95 L489.74,399.18 L491.23,399.43 L492.72,399.71 L494.20,400.01 L495.68,400.33 L497.16,400.67 L498.63,401.03 L500.10,401.41 L501.57,401.82 L503.03,402.24 L504.49,402.68 L505.94,403.13 L507.39,403.60 L508.83,404.09 L510.26,404.59 L511.69,405.11 L513.12,405.64 L514.53,406.18 L515.94,406.74 L517.35,407.30 L518.74,407.88 L520.13,408.46 L521.51,409.06 L522.88,409.67 L524.23,410.30 L525.57,410.95 L526.90,411.61 L528.21,412.30 L529.50,413.02 L530.77,413.75 L532.02,414.52 L533.24,415.32 L534.45,416.15 L535.62,417.01 L536.77,417.91 L537.89,418.85 L538.98,419.83 L540.04,420.84 L541.07,421.88 L542.09,422.96 L543.08,424.06 L544.06,425.19 L545.03,426.34 L545.98,427.50 L546.93,428.68 L547.87,429.87 L548.80,431.06 L549.74,432.27 L550.68,433.47 L551.62,434.67 L552.57,435.87 L553.52,437.07 L554.48,438.26 L555.44,439.45 L556.41,440.64 L557.39,441.82 L558.37,443.00 L559.36,444.17 L560.35,445.33 L561.35,446.49 L562.36,447.63 L563.38,448.78 L564.40,449.91 L565.43,451.03 L566.47,452.14 L567.52,453.25 L568.57,454.34 L569.64,455.42 L570.71,456.48 L571.79,457.54 L572.88,458.58 L573.98,459.61 L575.09,460.62 L576.21,461.62 L577.34,462.60 L578.48,463.57 L579.63,464.52 L580.80,465.45 L581.97,466.37 L583.15,467.26 L584.35,468.14 L585.56,469.00 L586.77,469.83 L588.01,470.65 L589.25,471.45 L590.50,472.22 L591.77,472.97 L593.06,473.70 L594.35,474.40 L595.66,475.08 L596.98,475.74 L598.32,476.37 L599.67,476.98 L601.03,477.55 L602.41,478.11 L603.80,478.63 L605.20,479.13 L606.61,479.61 L608.03,480.05 L609.47,480.47 L610.91,480.86 L612.36,481.23 L613.82,481.56 L615.29,481.87 L616.77,482.15 L618.25,482.41 L619.74,482.63 L621.24,482.83 L622.74,483.00 L624.24,483.14 L625.75,483.25 L627.26,483.33 L628.78,483.39 L630.29,483.41 L631.81,483.41 L633.33,483.37 L634.85,483.31 L636.37,483.21 L637.89,483.09 L639.41,482.94 L640.92,482.75 L642.44,482.54 L643.95,482.29 L645.45,482.01 L646.95,481.71 L648.45,481.37 L649.93,481.00 L651.40,480.60 L652.87,480.17 L654.32,479.70 L655.76,479.21 L657.18,478.68 L658.58,478.12 L659.97,477.53 L661.34,476.90 L662.69,476.24 L664.02,475.55 L665.32,474.82 L666.60,474.07 L667.86,473.28 L669.09,472.45 L670.29,471.59 L671.46,470.70 L672.60,469.77 L673.71,468.81 L674.78,467.81 L675.83,466.78 L676.83,465.71 L677.80,464.61 L678.73,463.48 L679.62,462.30 L680.47,461.10 L681.28,459.85 L682.04,458.58 L682.77,457.27 L683.47,455.93 L684.13,454.56 L684.77,453.18 L685.38,451.77 L685.97,450.34 L686.54,448.90 L687.10,447.45 L687.64,445.99 L688.18,444.52 L688.71,443.05 L689.25,441.57 L689.78,440.10 L690.32,438.63 L690.87,437.17 L691.43,435.72 L692.00,434.28 L692.60,432.85 L693.21,431.45 L693.85,430.06 L694.52,428.70 L695.22,427.37 L695.95,426.06 L696.73,424.78 L697.54,423.54 L698.40,422.34 L699.31,421.18 L700.26,420.06 L701.28,418.98 L702.35,417.96 L703.47,416.99 L704.65,416.08 L705.86,415.24 L707.12,414.48 L708.40,413.80 L709.72,413.21 L711.05,412.72 L712.40,412.33 L713.75,412.06 L715.12,411.91 L716.48,411.89 L717.83,412.00 L719.17,412.26 L720.49,412.65 L721.79,413.19 L723.07,413.83 L724.32,414.59 L725.54,415.44 L726.73,416.36 L727.88,417.35 L728.99,418.39 L730.06,419.48 L731.08,420.59 L732.07,421.73 L733.01,422.89 L733.91,424.08 L734.78,425.30 L735.62,426.54 L736.42,427.80 L737.20,429.09 L737.94,430.39 L738.66,431.71 L739.36,433.05 L740.04,434.41 L740.70,435.79 L741.34,437.18 L741.96,438.58 L742.57,440.00 L743.18,441.42 L743.77,442.86 L744.35,444.31 L744.93,445.77 L745.51,447.23 L746.09,448.70 L746.67,450.18 L747.25,451.65 L747.84,453.13 L748.44,454.60 L749.05,456.07 L749.67,457.53 L750.30,458.98 L750.95,460.41 L751.61,461.82 L752.30,463.21 L753.01,464.58 L753.75,465.92 L754.51,467.22 L755.30,468.50 L756.12,469.74 L756.98,470.93 L757.87,472.09 L758.79,473.21 L759.74,474.28 L760.73,475.31 L761.75,476.31 L762.80,477.27 L763.88,478.19 L764.99,479.07 L766.12,479.92 L767.28,480.73 L768.47,481.51 L769.68,482.26 L770.92,482.97 L772.18,483.66 L773.46,484.31 L774.76,484.93 L776.08,485.53 L777.43,486.09 L778.78,486.63 L780.16,487.15 L781.56,487.64 L782.97,488.10 L784.39,488.54 L785.83,488.96 L787.28,489.35 L788.74,489.73 L790.21,490.08 L791.70,490.42 L793.19,490.73 L794.69,491.03 L796.20,491.32 L797.71,491.58 L799.23,491.83 L800.76,492.07 L802.29,492.29 L803.82,492.51 L805.35,492.71 L806.88,492.89 L808.42,493.07 L809.95,493.24 L811.48,493.41 L813.01,493.56 L814.54,493.71 L816.06,493.85 L817.58,493.98 L819.09,494.11 L820.60,494.23 L822.11,494.35 L823.62,494.46 L825.13,494.57 L826.63,494.67 L828.13,494.77 L829.63,494.86 L831.13,494.95 L832.62,495.03 L834.11,495.11 L835.61,495.18 L837.10,495.25 L838.58,495.32 L840.07,495.39 L841.56,495.45 L843.05,495.51 L844.53,495.56 L846.02,495.62 L847.50,495.67 L848.99,495.72 L850.47,495.76 L851.95,495.81 L853.44,495.85 L854.92,495.90 L856.41,495.94 L857.89,495.98 L859.38,496.02 L860.86,496.06 L862.35,496.10 L863.84,496.14 L865.33,496.18 L866.82,496.22 L868.32,496.26 L869.81,496.30 L871.31,496.34 L872.80,496.39 L874.30,496.43 L875.81,496.48 L877.31,496.53 L878.82,496.58 L880.33,496.63 L881.84,496.68 L883.35,496.74 L884.87,496.80 L886.39,496.86 L887.92,496.93 L889.44,497.00 L890.97,497.07 L892.51,497.15 L894.05,497.23 L895.59,497.31" fill="none" stroke="#66CA06" stroke-width="5" stroke-linecap="round"/><circle cx="153.4" cy="403.8" r="6.2" fill="#3ABCF7" stroke="#1279BF" stroke-width="1.6"/><circle cx="183.1" cy="403.1" r="6.2" fill="#3ABCF7" stroke="#1279BF" stroke-width="1.6"/><circle cx="212.9" cy="403.1" r="6.2" fill="#3ABCF7" stroke="#1279BF" stroke-width="1.6"/><circle cx="242.6" cy="402.2" r="6.2" fill="#3ABCF7" stroke="#1279BF" stroke-width="1.6"/><circle cx="272" cy="399.5" r="6.2" fill="#3ABCF7" stroke="#1279BF" stroke-width="1.6"/><circle cx="302.1" cy="395.8" r="6.2" fill="#3ABCF7" stroke="#1279BF" stroke-width="1.6"/><circle cx="331.3" cy="399.8" r="6.2" fill="#3ABCF7" stroke="#1279BF" stroke-width="1.6"/><circle cx="361.5" cy="410.6" r="6.2" fill="#3ABCF7" stroke="#1279BF" stroke-width="1.6"/><circle cx="391.6" cy="467.8" r="6.2" fill="#3ABCF7" stroke="#1279BF" stroke-width="1.6"/><circle cx="420.4" cy="499.2" r="6.2" fill="#3ABCF7" stroke="#1279BF" stroke-width="1.6"/><circle cx="450.2" cy="507.7" r="6.2" fill="#3ABCF7" stroke="#1279BF" stroke-width="1.6"/><circle cx="479.9" cy="517.2" r="6.2" fill="#3ABCF7" stroke="#1279BF" stroke-width="1.6"/><circle cx="509.5" cy="530.3" r="6.2" fill="#3ABCF7" stroke="#1279BF" stroke-width="1.6"/><circle cx="539.1" cy="557.3" r="6.2" fill="#3ABCF7" stroke="#1279BF" stroke-width="1.6"/><circle cx="568.7" cy="593.9" r="6.2" fill="#3ABCF7" stroke="#1279BF" stroke-width="1.6"/><circle cx="598" cy="607.8" r="6.2" fill="#3ABCF7" stroke="#1279BF" stroke-width="1.6"/><circle cx="627.8" cy="613.6" r="6.2" fill="#3ABCF7" stroke="#1279BF" stroke-width="1.6"/><circle cx="657.7" cy="619" r="6.2" fill="#3ABCF7" stroke="#1279BF" stroke-width="1.6"/><circle cx="687.4" cy="385.7" r="6.2" fill="#3ABCF7" stroke="#1279BF" stroke-width="1.6"/><circle cx="717.6" cy="400" r="6.2" fill="#3ABCF7" stroke="#1279BF" stroke-width="1.6"/><circle cx="746.6" cy="459.7" r="6.2" fill="#3ABCF7" stroke="#1279BF" stroke-width="1.6"/><circle cx="776.3" cy="474.1" r="6.2" fill="#3ABCF7" stroke="#1279BF" stroke-width="1.6"/><circle cx="806" cy="433.6" r="6.2" fill="#3ABCF7" stroke="#1279BF" stroke-width="1.6"/><circle cx="835.7" cy="401.7" r="6.2" fill="#3ABCF7" stroke="#1279BF" stroke-width="1.6"/><circle cx="865.5" cy="394" r="6.2" fill="#3ABCF7" stroke="#1279BF" stroke-width="1.6"/><circle cx="895.4" cy="394" r="6.2" fill="#3ABCF7" stroke="#1279BF" stroke-width="1.6"/><path d="M153.70,390.39 L155.17,390.50 L156.63,390.60 L158.10,390.71 L159.57,390.80 L161.04,390.90 L162.52,390.99 L164.00,391.07 L165.47,391.15 L166.95,391.23 L168.44,391.30 L169.92,391.37 L171.41,391.44 L172.89,391.51 L174.38,391.57 L175.87,391.63 L177.37,391.68 L178.86,391.74 L180.36,391.79 L181.85,391.83 L183.35,391.88 L184.85,391.93 L186.35,391.97 L187.85,392.01 L189.36,392.05 L190.86,392.09 L192.37,392.13 L193.87,392.17 L195.38,392.20 L196.89,392.24 L198.40,392.27 L199.91,392.31 L201.42,392.34 L202.93,392.38 L204.44,392.41 L205.96,392.45 L207.47,392.48 L208.99,392.52 L210.50,392.55 L212.02,392.59 L213.53,392.63 L215.05,392.67 L216.57,392.71 L218.09,392.76 L219.60,392.80 L221.12,392.85 L222.64,392.89 L224.16,392.94 L225.68,393.00 L227.19,393.05 L228.71,393.11 L230.23,393.17 L231.75,393.23 L233.27,393.30 L234.78,393.37 L236.30,393.44 L237.82,393.52 L239.34,393.60 L240.85,393.68 L242.37,393.77 L243.89,393.86 L245.40,393.96 L246.92,394.06 L248.43,394.17 L249.94,394.28 L251.46,394.39 L252.97,394.51 L254.48,394.64 L255.99,394.77 L257.50,394.90 L259.01,395.04 L260.51,395.19 L262.02,395.34 L263.53,395.50 L265.03,395.67 L266.53,395.84 L268.04,396.02 L269.54,396.21 L271.04,396.40 L272.53,396.60 L274.03,396.80 L275.53,397.02 L277.02,397.24 L278.51,397.47 L280.00,397.71 L281.49,397.95 L282.98,398.20 L284.47,398.46 L285.95,398.73 L287.43,399.01 L288.91,399.30 L290.39,399.59 L291.87,399.90 L293.34,400.21 L294.81,400.54 L296.28,400.87 L297.75,401.21 L299.22,401.56 L300.68,401.93 L302.14,402.30 L303.60,402.68 L305.06,403.07 L306.51,403.48 L307.97,403.89 L309.41,404.32 L310.86,404.75 L312.30,405.20 L313.74,405.67 L315.17,406.14 L316.59,406.63 L318.01,407.13 L319.43,407.64 L320.83,408.17 L322.23,408.72 L323.63,409.28 L325.01,409.86 L326.38,410.45 L327.75,411.06 L329.10,411.68 L330.45,412.32 L331.78,412.98 L333.10,413.66 L334.41,414.36 L335.71,415.08 L337.00,415.81 L338.27,416.57 L339.53,417.34 L340.78,418.14 L342.01,418.95 L343.22,419.79 L344.42,420.65 L345.61,421.53 L346.77,422.44 L347.92,423.37 L349.06,424.32 L350.17,425.29 L351.27,426.29 L352.35,427.31 L353.42,428.34 L354.47,429.40 L355.52,430.48 L356.54,431.57 L357.56,432.67 L358.56,433.80 L359.56,434.93 L360.54,436.08 L361.52,437.24 L362.49,438.41 L363.45,439.59 L364.40,440.78 L365.35,441.97 L366.30,443.17 L367.24,444.38 L368.18,445.59 L369.11,446.81 L370.04,448.02 L370.98,449.24 L371.91,450.46 L372.84,451.67 L373.78,452.89 L374.72,454.10 L375.66,455.31 L376.60,456.51 L377.55,457.70 L378.50,458.89 L379.47,460.07 L380.43,461.24 L381.41,462.40 L382.40,463.55 L383.39,464.68 L384.39,465.80 L385.41,466.91 L386.44,468.00 L387.48,469.07 L388.53,470.13 L389.60,471.16 L390.68,472.18 L391.77,473.19 L392.88,474.17 L393.99,475.14 L395.12,476.09 L396.26,477.03 L397.42,477.94 L398.58,478.84 L399.76,479.73 L400.95,480.60 L402.15,481.45 L403.37,482.28 L404.59,483.10 L405.82,483.90 L407.07,484.68 L408.32,485.45 L409.59,486.20 L410.87,486.94 L412.16,487.66 L413.45,488.37 L414.76,489.06 L416.08,489.73 L417.40,490.39 L418.74,491.04 L420.09,491.66 L421.44,492.28 L422.81,492.88 L424.18,493.46 L425.56,494.03 L426.95,494.58 L428.35,495.12 L429.76,495.65 L431.17,496.16 L432.60,496.65 L434.03,497.13 L435.47,497.60 L436.91,498.05 L438.37,498.49 L439.83,498.92 L441.30,499.33 L442.77,499.74 L444.25,500.13 L445.74,500.51 L447.23,500.88 L448.72,501.24 L450.22,501.60 L451.72,501.95 L453.23,502.29 L454.74,502.62 L456.25,502.96 L457.76,503.28 L459.27,503.61 L460.79,503.93 L462.30,504.25 L463.82,504.57 L465.33,504.89 L466.84,505.21 L468.36,505.53 L469.87,505.86 L471.38,506.18 L472.88,506.51 L474.39,506.85 L475.89,507.19 L477.38,507.54 L478.88,507.89 L480.36,508.25 L481.85,508.63 L483.32,509.00 L484.79,509.39 L486.26,509.80 L487.72,510.21 L489.17,510.63 L490.61,511.07 L492.04,511.52 L493.47,511.99 L494.88,512.47 L496.29,512.97 L497.69,513.48 L499.08,514.02 L500.45,514.57 L501.82,515.14 L503.17,515.73 L504.51,516.34 L505.84,516.97 L507.16,517.63 L508.46,518.30 L509.76,519.00 L511.04,519.71 L512.31,520.44 L513.57,521.19 L514.82,521.96 L516.06,522.75 L517.29,523.55 L518.51,524.37 L519.72,525.21 L520.92,526.07 L522.11,526.94 L523.29,527.82 L524.46,528.72 L525.62,529.63 L526.78,530.56 L527.92,531.50 L529.06,532.46 L530.19,533.43 L531.31,534.41 L532.43,535.40 L533.53,536.40 L534.63,537.42 L535.73,538.44 L536.81,539.48 L537.89,540.53 L538.97,541.58 L540.03,542.64 L541.10,543.72 L542.15,544.80 L543.20,545.89 L544.25,546.98 L545.29,548.09 L546.32,549.20 L547.35,550.31 L548.38,551.43 L549.40,552.56 L550.42,553.69 L551.44,554.83 L552.45,555.97 L553.45,557.11 L554.46,558.26 L555.46,559.41 L556.46,560.56 L557.46,561.72 L558.45,562.87 L559.44,564.03 L560.43,565.19 L561.42,566.35 L562.41,567.50 L563.40,568.66 L564.39,569.81 L565.38,570.96 L566.37,572.11 L567.36,573.25 L568.36,574.38 L569.36,575.51 L570.37,576.63 L571.38,577.74 L572.40,578.85 L573.42,579.94 L574.45,581.02 L575.49,582.10 L576.54,583.15 L577.59,584.20 L578.66,585.23 L579.74,586.25 L580.83,587.25 L581.93,588.23 L583.04,589.20 L584.16,590.15 L585.30,591.08 L586.46,591.99 L587.63,592.88 L588.81,593.75 L590.01,594.60 L591.23,595.42 L592.46,596.23 L593.70,597.01 L594.96,597.77 L596.23,598.52 L597.52,599.24 L598.82,599.95 L600.13,600.63 L601.46,601.30 L602.80,601.95 L604.14,602.58 L605.50,603.19 L606.88,603.79 L608.26,604.37 L609.65,604.93 L611.05,605.47 L612.46,606.00 L613.89,606.52 L615.32,607.01 L616.75,607.49 L618.20,607.96 L619.66,608.41 L621.12,608.85 L622.59,609.28 L624.06,609.69 L625.54,610.10 L627.02,610.49 L628.51,610.87 L630.00,611.25 L631.49,611.62 L632.99,611.98 L634.48,612.33 L635.98,612.68 L637.48,613.02 L638.98,613.36 L640.47,613.70 L641.97,614.04 L643.46,614.37 L644.95,614.70 L646.44,615.04 L647.92,615.37 L649.40,615.71 L650.87,616.05 L652.34,616.39 L653.80,616.74 L655.25,617.10 L656.69,617.45 L658.13,617.82 L659.56,618.19 L660.98,618.58 L662.38,618.97 L663.78,619.37 L665.17,619.78" fill="none" stroke="#0D87CD" stroke-width="5.4" stroke-linecap="round"/><path d="M669.35,383.06 L670.83,383.43 L672.31,383.81 L673.79,384.19 L675.28,384.58 L676.76,384.98 L678.25,385.39 L679.73,385.81 L681.21,386.24 L682.69,386.68 L684.16,387.13 L685.63,387.60 L687.10,388.07 L688.56,388.57 L690.01,389.07 L691.46,389.59 L692.89,390.12 L694.32,390.68 L695.74,391.24 L697.15,391.83 L698.55,392.43 L699.93,393.05 L701.31,393.69 L702.67,394.35 L704.01,395.03 L705.34,395.73 L706.66,396.46 L707.96,397.20 L709.24,397.97 L710.51,398.75 L711.77,399.56 L713.01,400.38 L714.23,401.23 L715.45,402.09 L716.64,402.97 L717.83,403.87 L719.00,404.79 L720.16,405.72 L721.30,406.67 L722.44,407.64 L723.56,408.62 L724.67,409.62 L725.77,410.63 L726.86,411.65 L727.93,412.69 L729.00,413.75 L730.06,414.81 L731.10,415.89 L732.14,416.98 L733.16,418.08 L734.18,419.20 L735.19,420.32 L736.19,421.45 L737.18,422.60 L738.16,423.75 L739.14,424.91 L740.11,426.08 L741.07,427.26 L742.02,428.45 L742.97,429.64 L743.91,430.84 L744.85,432.05 L745.78,433.26 L746.71,434.47 L747.64,435.68 L748.56,436.90 L749.49,438.11 L750.41,439.32 L751.34,440.53 L752.26,441.74 L753.19,442.94 L754.12,444.14 L755.06,445.33 L756.00,446.52 L756.95,447.69 L757.91,448.86 L758.87,450.01 L759.84,451.15 L760.82,452.28 L761.82,453.40 L762.82,454.50 L763.84,455.58 L764.86,456.65 L765.91,457.70 L766.96,458.73 L768.03,459.73 L769.12,460.72 L770.23,461.69 L771.35,462.63 L772.49,463.54 L773.66,464.44 L774.84,465.30 L776.05,466.14 L777.27,466.94 L778.52,467.72 L779.79,468.47 L781.08,469.20 L782.39,469.90 L783.72,470.57 L785.06,471.22 L786.42,471.84 L787.80,472.44 L789.19,473.02 L790.60,473.58 L792.01,474.12 L793.44,474.63 L794.89,475.13 L796.34,475.61 L797.80,476.07 L799.27,476.51 L800.75,476.94 L802.23,477.35 L803.72,477.75 L805.22,478.14 L806.72,478.51 L808.22,478.86 L809.73,479.21 L811.24,479.55 L812.74,479.87 L814.25,480.19 L815.76,480.49 L817.27,480.79 L818.78,481.08 L820.29,481.36 L821.80,481.63 L823.31,481.90 L824.81,482.15 L826.32,482.40 L827.83,482.64 L829.34,482.87 L830.85,483.10 L832.36,483.32 L833.87,483.53 L835.38,483.74 L836.88,483.94 L838.39,484.14 L839.90,484.33 L841.41,484.51 L842.91,484.69 L844.42,484.86 L845.93,485.03 L847.43,485.20 L848.94,485.36 L850.45,485.52 L851.95,485.67 L853.46,485.82 L854.96,485.97 L856.47,486.11 L857.97,486.25 L859.48,486.39 L860.98,486.53 L862.48,486.66 L863.98,486.79 L865.49,486.92 L866.99,487.05 L868.49,487.18 L869.99,487.31 L871.49,487.43 L872.99,487.56 L874.49,487.69 L875.98,487.81 L877.48,487.94 L878.98,488.06 L880.47,488.19 L881.97,488.32 L883.46,488.45 L884.96,488.58 L886.45,488.71 L887.94,488.85 L889.43,488.98 L890.93,489.12 L892.42,489.26 L893.90,489.41 L895.39,489.55" fill="none" stroke="#0D87CD" stroke-width="5.4" stroke-linecap="round"/><g stroke="#161616" stroke-width="2.1" stroke-linecap="round" stroke-dasharray="10.4 15.4"><line x1="365.3" y1="90.05" x2="365.3" y2="462.2"/><line x1="558.1" y1="83.05" x2="558.1" y2="601.5"/><line x1="752" y1="87.55" x2="752" y2="485.5"/></g><g filter="url(#sh)"><rect x="553.9" y="460" width="6.3" height="87" fill="#C45E16"/><polygon points="557.05,443.2 548.8,462 565.3,462" fill="#C45E16"/><polygon points="557.05,564.4 548.8,545.6 565.3,545.6" fill="#C45E16"/></g><clipPath id="gc"><rect x="557.5" y="447" width="16" height="16"/></clipPath><path clip-path="url(#gc)" d="M153.30,384.35 L154.85,384.39 L156.40,384.43 L157.94,384.47 L159.48,384.50 L161.02,384.53 L162.56,384.56 L164.09,384.59 L165.63,384.61 L167.16,384.64 L168.68,384.66 L170.21,384.68 L171.73,384.70 L173.26,384.71 L174.77,384.73 L176.29,384.74 L177.81,384.76 L179.32,384.77 L180.84,384.78 L182.35,384.79 L183.86,384.80 L185.37,384.80 L186.87,384.81 L188.38,384.82 L189.88,384.82 L191.38,384.83 L192.88,384.83 L194.38,384.84 L195.88,384.84 L197.38,384.84 L198.87,384.85 L200.37,384.85 L201.86,384.85 L203.36,384.85 L204.85,384.86 L206.34,384.86 L207.83,384.86 L209.32,384.87 L210.81,384.87 L212.29,384.88 L213.78,384.88 L215.27,384.89 L216.75,384.89 L218.24,384.90 L219.72,384.91 L221.21,384.92 L222.69,384.93 L224.18,384.94 L225.66,384.95 L227.14,384.96 L228.63,384.98 L230.11,385.00 L231.59,385.01 L233.08,385.03 L234.56,385.05 L236.04,385.08 L237.53,385.10 L239.01,385.13 L240.49,385.15 L241.98,385.18 L243.46,385.21 L244.95,385.25 L246.43,385.29 L247.92,385.32 L249.40,385.36 L250.89,385.41 L252.37,385.45 L253.86,385.50 L255.35,385.55 L256.84,385.61 L258.33,385.66 L259.82,385.72 L261.31,385.79 L262.80,385.85 L264.30,385.92 L265.79,385.99 L267.29,386.07 L268.78,386.15 L270.28,386.23 L271.78,386.31 L273.28,386.40 L274.78,386.50 L276.29,386.59 L277.79,386.69 L279.30,386.80 L280.80,386.91 L282.31,387.02 L283.82,387.13 L285.34,387.25 L286.85,387.38 L288.36,387.51 L289.88,387.64 L291.40,387.78 L292.92,387.92 L294.45,388.07 L295.97,388.22 L297.50,388.38 L299.03,388.54 L300.56,388.71 L302.09,388.88 L303.63,389.05 L305.17,389.24 L306.71,389.42 L308.25,389.62 L309.79,389.82 L311.33,390.02 L312.87,390.24 L314.41,390.47 L315.95,390.70 L317.48,390.95 L319.01,391.22 L320.53,391.49 L322.04,391.78 L323.55,392.09 L325.04,392.42 L326.53,392.76 L328.00,393.12 L329.47,393.50 L330.92,393.90 L332.35,394.33 L333.77,394.77 L335.18,395.25 L336.57,395.74 L337.93,396.26 L339.29,396.81 L340.62,397.39 L341.93,398.00 L343.21,398.64 L344.48,399.30 L345.72,400.00 L346.94,400.74 L348.13,401.50 L349.29,402.31 L350.42,403.14 L351.53,404.02 L352.61,404.93 L353.66,405.89 L354.67,406.88 L355.66,407.90 L356.62,408.96 L357.56,410.05 L358.46,411.18 L359.34,412.34 L360.20,413.52 L361.03,414.74 L361.84,415.99 L362.62,417.26 L363.38,418.56 L364.12,419.89 L364.83,421.23 L365.53,422.61 L366.20,424.00 L366.86,425.41 L367.49,426.85 L368.11,428.30 L368.71,429.77 L369.29,431.26 L369.86,432.76 L370.40,434.28 L370.94,435.81 L371.46,437.35 L371.97,438.90 L372.48,440.45 L372.98,442.00 L373.49,443.54 L374.00,445.08 L374.51,446.60 L375.04,448.10 L375.58,449.58 L376.14,451.04 L376.72,452.47 L377.32,453.87 L377.95,455.23 L378.61,456.55 L379.30,457.82 L380.03,459.05 L380.80,460.22 L381.61,461.34 L382.47,462.40 L383.39,463.40 L384.35,464.33 L385.37,465.19 L386.45,465.97 L387.60,466.67 L388.81,467.29 L390.09,467.82 L391.43,468.27 L392.81,468.63 L394.24,468.90 L395.68,469.08 L397.15,469.17 L398.63,469.16 L400.10,469.07 L401.55,468.88 L402.98,468.60 L404.38,468.23 L405.74,467.76 L407.03,467.20 L408.27,466.54 L409.45,465.79 L410.57,464.95 L411.63,464.04 L412.64,463.04 L413.60,461.98 L414.52,460.84 L415.39,459.65 L416.22,458.40 L417.01,457.10 L417.77,455.75 L418.50,454.36 L419.19,452.93 L419.86,451.47 L420.51,449.98 L421.14,448.46 L421.74,446.93 L422.33,445.39 L422.91,443.84 L423.49,442.28 L424.05,440.73 L424.61,439.18 L425.17,437.64 L425.73,436.12 L426.30,434.62 L426.87,433.13 L427.44,431.66 L428.03,430.21 L428.63,428.78 L429.24,427.38 L429.87,425.99 L430.52,424.63 L431.18,423.30 L431.86,421.99 L432.57,420.71 L433.30,419.45 L434.06,418.23 L434.85,417.03 L435.67,415.86 L436.52,414.73 L437.40,413.63 L438.32,412.56 L439.28,411.53 L440.28,410.53 L441.32,409.58 L442.40,408.65 L443.53,407.77 L444.70,406.93 L445.92,406.13 L447.18,405.36 L448.48,404.64 L449.81,403.95 L451.17,403.31 L452.55,402.70 L453.96,402.13 L455.40,401.61 L456.85,401.11 L458.31,400.66 L459.79,400.25 L461.27,399.87 L462.77,399.53 L464.26,399.23 L465.75,398.97 L467.25,398.74 L468.75,398.55 L470.25,398.39 L471.75,398.27 L473.25,398.18 L474.75,398.12 L476.25,398.10 L477.76,398.10 L479.26,398.14 L480.76,398.20 L482.26,398.30 L483.76,398.42 L485.26,398.57 L486.75,398.75 L488.25,398.95 L489.74,399.18 L491.23,399.43 L492.72,399.71 L494.20,400.01 L495.68,400.33 L497.16,400.67 L498.63,401.03 L500.10,401.41 L501.57,401.82 L503.03,402.24 L504.49,402.68 L505.94,403.13 L507.39,403.60 L508.83,404.09 L510.26,404.59 L511.69,405.11 L513.12,405.64 L514.53,406.18 L515.94,406.74 L517.35,407.30 L518.74,407.88 L520.13,408.46 L521.51,409.06 L522.88,409.67 L524.23,410.30 L525.57,410.95 L526.90,411.61 L528.21,412.30 L529.50,413.02 L530.77,413.75 L532.02,414.52 L533.24,415.32 L534.45,416.15 L535.62,417.01 L536.77,417.91 L537.89,418.85 L538.98,419.83 L540.04,420.84 L541.07,421.88 L542.09,422.96 L543.08,424.06 L544.06,425.19 L545.03,426.34 L545.98,427.50 L546.93,428.68 L547.87,429.87 L548.80,431.06 L549.74,432.27 L550.68,433.47 L551.62,434.67 L552.57,435.87 L553.52,437.07 L554.48,438.26 L555.44,439.45 L556.41,440.64 L557.39,441.82 L558.37,443.00 L559.36,444.17 L560.35,445.33 L561.35,446.49 L562.36,447.63 L563.38,448.78 L564.40,449.91 L565.43,451.03 L566.47,452.14 L567.52,453.25 L568.57,454.34 L569.64,455.42 L570.71,456.48 L571.79,457.54 L572.88,458.58 L573.98,459.61 L575.09,460.62 L576.21,461.62 L577.34,462.60 L578.48,463.57 L579.63,464.52 L580.80,465.45 L581.97,466.37 L583.15,467.26 L584.35,468.14 L585.56,469.00 L586.77,469.83 L588.01,470.65 L589.25,471.45 L590.50,472.22 L591.77,472.97 L593.06,473.70 L594.35,474.40 L595.66,475.08 L596.98,475.74 L598.32,476.37 L599.67,476.98 L601.03,477.55 L602.41,478.11 L603.80,478.63 L605.20,479.13 L606.61,479.61 L608.03,480.05 L609.47,480.47 L610.91,480.86 L612.36,481.23 L613.82,481.56 L615.29,481.87 L616.77,482.15 L618.25,482.41 L619.74,482.63 L621.24,482.83 L622.74,483.00 L624.24,483.14 L625.75,483.25 L627.26,483.33 L628.78,483.39 L630.29,483.41 L631.81,483.41 L633.33,483.37 L634.85,483.31 L636.37,483.21 L637.89,483.09 L639.41,482.94 L640.92,482.75 L642.44,482.54 L643.95,482.29 L645.45,482.01 L646.95,481.71 L648.45,481.37 L649.93,481.00 L651.40,480.60 L652.87,480.17 L654.32,479.70 L655.76,479.21 L657.18,478.68 L658.58,478.12 L659.97,477.53 L661.34,476.90 L662.69,476.24 L664.02,475.55 L665.32,474.82 L666.60,474.07 L667.86,473.28 L669.09,472.45 L670.29,471.59 L671.46,470.70 L672.60,469.77 L673.71,468.81 L674.78,467.81 L675.83,466.78 L676.83,465.71 L677.80,464.61 L678.73,463.48 L679.62,462.30 L680.47,461.10 L681.28,459.85 L682.04,458.58 L682.77,457.27 L683.47,455.93 L684.13,454.56 L684.77,453.18 L685.38,451.77 L685.97,450.34 L686.54,448.90 L687.10,447.45 L687.64,445.99 L688.18,444.52 L688.71,443.05 L689.25,441.57 L689.78,440.10 L690.32,438.63 L690.87,437.17 L691.43,435.72 L692.00,434.28 L692.60,432.85 L693.21,431.45 L693.85,430.06 L694.52,428.70 L695.22,427.37 L695.95,426.06 L696.73,424.78 L697.54,423.54 L698.40,422.34 L699.31,421.18 L700.26,420.06 L701.28,418.98 L702.35,417.96 L703.47,416.99 L704.65,416.08 L705.86,415.24 L707.12,414.48 L708.40,413.80 L709.72,413.21 L711.05,412.72 L712.40,412.33 L713.75,412.06 L715.12,411.91 L716.48,411.89 L717.83,412.00 L719.17,412.26 L720.49,412.65 L721.79,413.19 L723.07,413.83 L724.32,414.59 L725.54,415.44 L726.73,416.36 L727.88,417.35 L728.99,418.39 L730.06,419.48 L731.08,420.59 L732.07,421.73 L733.01,422.89 L733.91,424.08 L734.78,425.30 L735.62,426.54 L736.42,427.80 L737.20,429.09 L737.94,430.39 L738.66,431.71 L739.36,433.05 L740.04,434.41 L740.70,435.79 L741.34,437.18 L741.96,438.58 L742.57,440.00 L743.18,441.42 L743.77,442.86 L744.35,444.31 L744.93,445.77 L745.51,447.23 L746.09,448.70 L746.67,450.18 L747.25,451.65 L747.84,453.13 L748.44,454.60 L749.05,456.07 L749.67,457.53 L750.30,458.98 L750.95,460.41 L751.61,461.82 L752.30,463.21 L753.01,464.58 L753.75,465.92 L754.51,467.22 L755.30,468.50 L756.12,469.74 L756.98,470.93 L757.87,472.09 L758.79,473.21 L759.74,474.28 L760.73,475.31 L761.75,476.31 L762.80,477.27 L763.88,478.19 L764.99,479.07 L766.12,479.92 L767.28,480.73 L768.47,481.51 L769.68,482.26 L770.92,482.97 L772.18,483.66 L773.46,484.31 L774.76,484.93 L776.08,485.53 L777.43,486.09 L778.78,486.63 L780.16,487.15 L781.56,487.64 L782.97,488.10 L784.39,488.54 L785.83,488.96 L787.28,489.35 L788.74,489.73 L790.21,490.08 L791.70,490.42 L793.19,490.73 L794.69,491.03 L796.20,491.32 L797.71,491.58 L799.23,491.83 L800.76,492.07 L802.29,492.29 L803.82,492.51 L805.35,492.71 L806.88,492.89 L808.42,493.07 L809.95,493.24 L811.48,493.41 L813.01,493.56 L814.54,493.71 L816.06,493.85 L817.58,493.98 L819.09,494.11 L820.60,494.23 L822.11,494.35 L823.62,494.46 L825.13,494.57 L826.63,494.67 L828.13,494.77 L829.63,494.86 L831.13,494.95 L832.62,495.03 L834.11,495.11 L835.61,495.18 L837.10,495.25 L838.58,495.32 L840.07,495.39 L841.56,495.45 L843.05,495.51 L844.53,495.56 L846.02,495.62 L847.50,495.67 L848.99,495.72 L850.47,495.76 L851.95,495.81 L853.44,495.85 L854.92,495.90 L856.41,495.94 L857.89,495.98 L859.38,496.02 L860.86,496.06 L862.35,496.10 L863.84,496.14 L865.33,496.18 L866.82,496.22 L868.32,496.26 L869.81,496.30 L871.31,496.34 L872.80,496.39 L874.30,496.43 L875.81,496.48 L877.31,496.53 L878.82,496.58 L880.33,496.63 L881.84,496.68 L883.35,496.74 L884.87,496.80 L886.39,496.86 L887.92,496.93 L889.44,497.00 L890.97,497.07 L892.51,497.15 L894.05,497.23 L895.59,497.31" fill="none" stroke="#66CA06" stroke-width="5" stroke-linecap="round"/><g filter="url(#sh)" stroke="#8D3F08" stroke-width="3.6"><line x1="361.4" y1="445" x2="752.2" y2="445" stroke-dasharray="13.5 10.05"/><line x1="435.1" y1="561.9" x2="677.7" y2="561.9" stroke-dasharray="13.5 10.05"/></g><rect x="762.1" y="443.1" width="1" height="3.5" fill="#c9bdbd"/><text x="218.3" y="80.8" font-size="33.5" text-anchor="start" fill="#0a0a0a" stroke="#0a0a0a" stroke-width="0.3" font-family="Liberation Sans, sans-serif" >In-phase</text><text x="759.9" y="80.8" font-size="33.5" text-anchor="start" fill="#0a0a0a" stroke="#0a0a0a" stroke-width="0.3" font-family="Liberation Sans, sans-serif" >In-phase</text><text x="550.6" y="24.2" font-size="33.5" text-anchor="middle" fill="#0a0a0a" stroke="#0a0a0a" stroke-width="0.3" font-family="Liberation Sans, sans-serif" >Out-of-</text><text x="551.0" y="64.3" font-size="33.5" text-anchor="middle" fill="#0a0a0a" stroke="#0a0a0a" stroke-width="0.3" font-family="Liberation Sans, sans-serif" >phase</text><text x="130" y="392.0" font-size="34" text-anchor="end" fill="#0a0a0a" stroke="#0a0a0a" stroke-width="0.3" font-family="Liberation Sans, sans-serif" >0</text><text x="130" y="511.1" font-size="34" text-anchor="end" fill="#0a0a0a" stroke="#0a0a0a" stroke-width="0.3" font-family="Liberation Sans, sans-serif" >180</text><text x="130" y="631.1" font-size="34" text-anchor="end" fill="#0a0a0a" stroke="#0a0a0a" stroke-width="0.3" font-family="Liberation Sans, sans-serif" >360</text><rect x="55.2" y="500.2" width="18.2" height="2.8" fill="#0a0a0a"/><rect x="55.2" y="620.2" width="18.2" height="2.8" fill="#0a0a0a"/><text x="153.4" y="728.9" font-size="34" text-anchor="middle" fill="#0a0a0a" stroke="#0a0a0a" stroke-width="0.3" font-family="Liberation Sans, sans-serif" >5.15</text><text x="301.8" y="728.9" font-size="34" text-anchor="middle" fill="#0a0a0a" stroke="#0a0a0a" stroke-width="0.3" font-family="Liberation Sans, sans-serif" >5.20</text><text x="450.3" y="728.9" font-size="34" text-anchor="middle" fill="#0a0a0a" stroke="#0a0a0a" stroke-width="0.3" font-family="Liberation Sans, sans-serif" >5.25</text><text x="598.7" y="728.9" font-size="34" text-anchor="middle" fill="#0a0a0a" stroke="#0a0a0a" stroke-width="0.3" font-family="Liberation Sans, sans-serif" >5.30</text><text x="747.2" y="728.9" font-size="34" text-anchor="middle" fill="#0a0a0a" stroke="#0a0a0a" stroke-width="0.3" font-family="Liberation Sans, sans-serif" >5.35</text><text x="895.6" y="728.9" font-size="34" text-anchor="middle" fill="#0a0a0a" stroke="#0a0a0a" stroke-width="0.3" font-family="Liberation Sans, sans-serif" >5.40</text><text x="442" y="777.8" font-size="33.5" fill="#0a0a0a" stroke="#0a0a0a" stroke-width="0.3" font-family="Liberation Sans, sans-serif"><tspan font-family="Liberation Serif, serif" font-size="34">ω</tspan>/2<tspan font-family="Liberation Serif, serif" font-size="34">π</tspan> (GHz)</text><text x="0" y="0" font-size="33.5" fill="#0a0a0a" stroke="#0a0a0a" stroke-width="0.3" font-family="Liberation Sans, sans-serif" transform="translate(24.4,501) rotate(-90)" text-anchor="middle">Phase (degree)</text><text x="573" y="525.3" font-size="29.4" text-anchor="start" fill="#C65C12" stroke="#C65C12" stroke-width="0.3" font-family="Liberation Sans, sans-serif" >180°</text></svg></body></html>
